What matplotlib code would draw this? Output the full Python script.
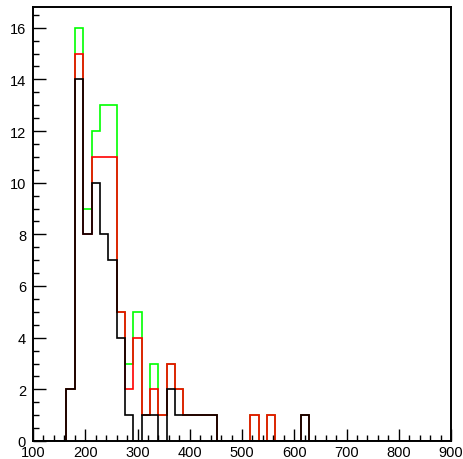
import numpy as np
import matplotlib
matplotlib.use('Agg')
import matplotlib.pyplot as plt
from matplotlib.ticker import MultipleLocator

plt.rcParams['font.family'] = ['Liberation Sans', 'DejaVu Sans']

# histogram binning: 50 bins of width 16 from 100 to 900
x_min, x_max, n_bins = 100, 900, 50

# low edges of the filled bins and the counts of each series
bin_lo = [164, 180, 196, 212, 228, 244, 260, 276, 292, 308, 324,
          340, 356, 372, 388, 404, 420, 436, 516, 548, 612]
green_counts = [2, 16, 9, 12, 13, 13, 5, 3, 5, 1, 3, 1, 3, 2, 1, 1, 1, 1, 1, 1, 1]
red_counts = [2, 15, 8, 11, 11, 11, 5, 2, 4, 1, 2, 1, 3, 2, 1, 1, 1, 1, 1, 1, 1]
black_counts = [2, 14, 8, 10, 8, 7, 4, 1, 0, 1, 1, 0, 2, 1, 1, 1, 1, 1, 0, 0, 1]

edges = np.linspace(x_min, x_max, n_bins + 1)
width = edges[1] - edges[0]


def fill(counts):
    h = np.zeros(n_bins)
    for lo, c in zip(bin_lo, counts):
        h[int(round((lo - x_min) / width))] = c
    return h


fig = plt.figure(figsize=(4.63, 4.60), dpi=100)
ax = fig.add_axes([33 / 463, 18 / 460, 418 / 463, 434 / 460])

for counts, col in [(green_counts, '#00ff00'), (red_counts, '#ff0000'), (black_counts, 'black')]:
    ax.stairs(fill(counts), edges, baseline=0, color=col, linewidth=1.2)

ax.set_xlim(x_min, x_max)
ax.set_ylim(0, 16.8)

ax.xaxis.set_major_locator(MultipleLocator(100))
ax.xaxis.set_minor_locator(MultipleLocator(20))
ax.yaxis.set_major_locator(MultipleLocator(2))
ax.yaxis.set_minor_locator(MultipleLocator(0.5))
ax.tick_params(which='both', direction='in', top=False, right=False, width=1.0, labelsize=10.5)
ax.tick_params(which='major', length=9)
ax.tick_params(which='minor', length=4.5)
ax.tick_params(axis='x', pad=3)
ax.tick_params(axis='y', pad=5)

for s in ax.spines.values():
    s.set_linewidth(1.4)
    s.set_zorder(5)

fig.savefig('out.png', dpi=100)
